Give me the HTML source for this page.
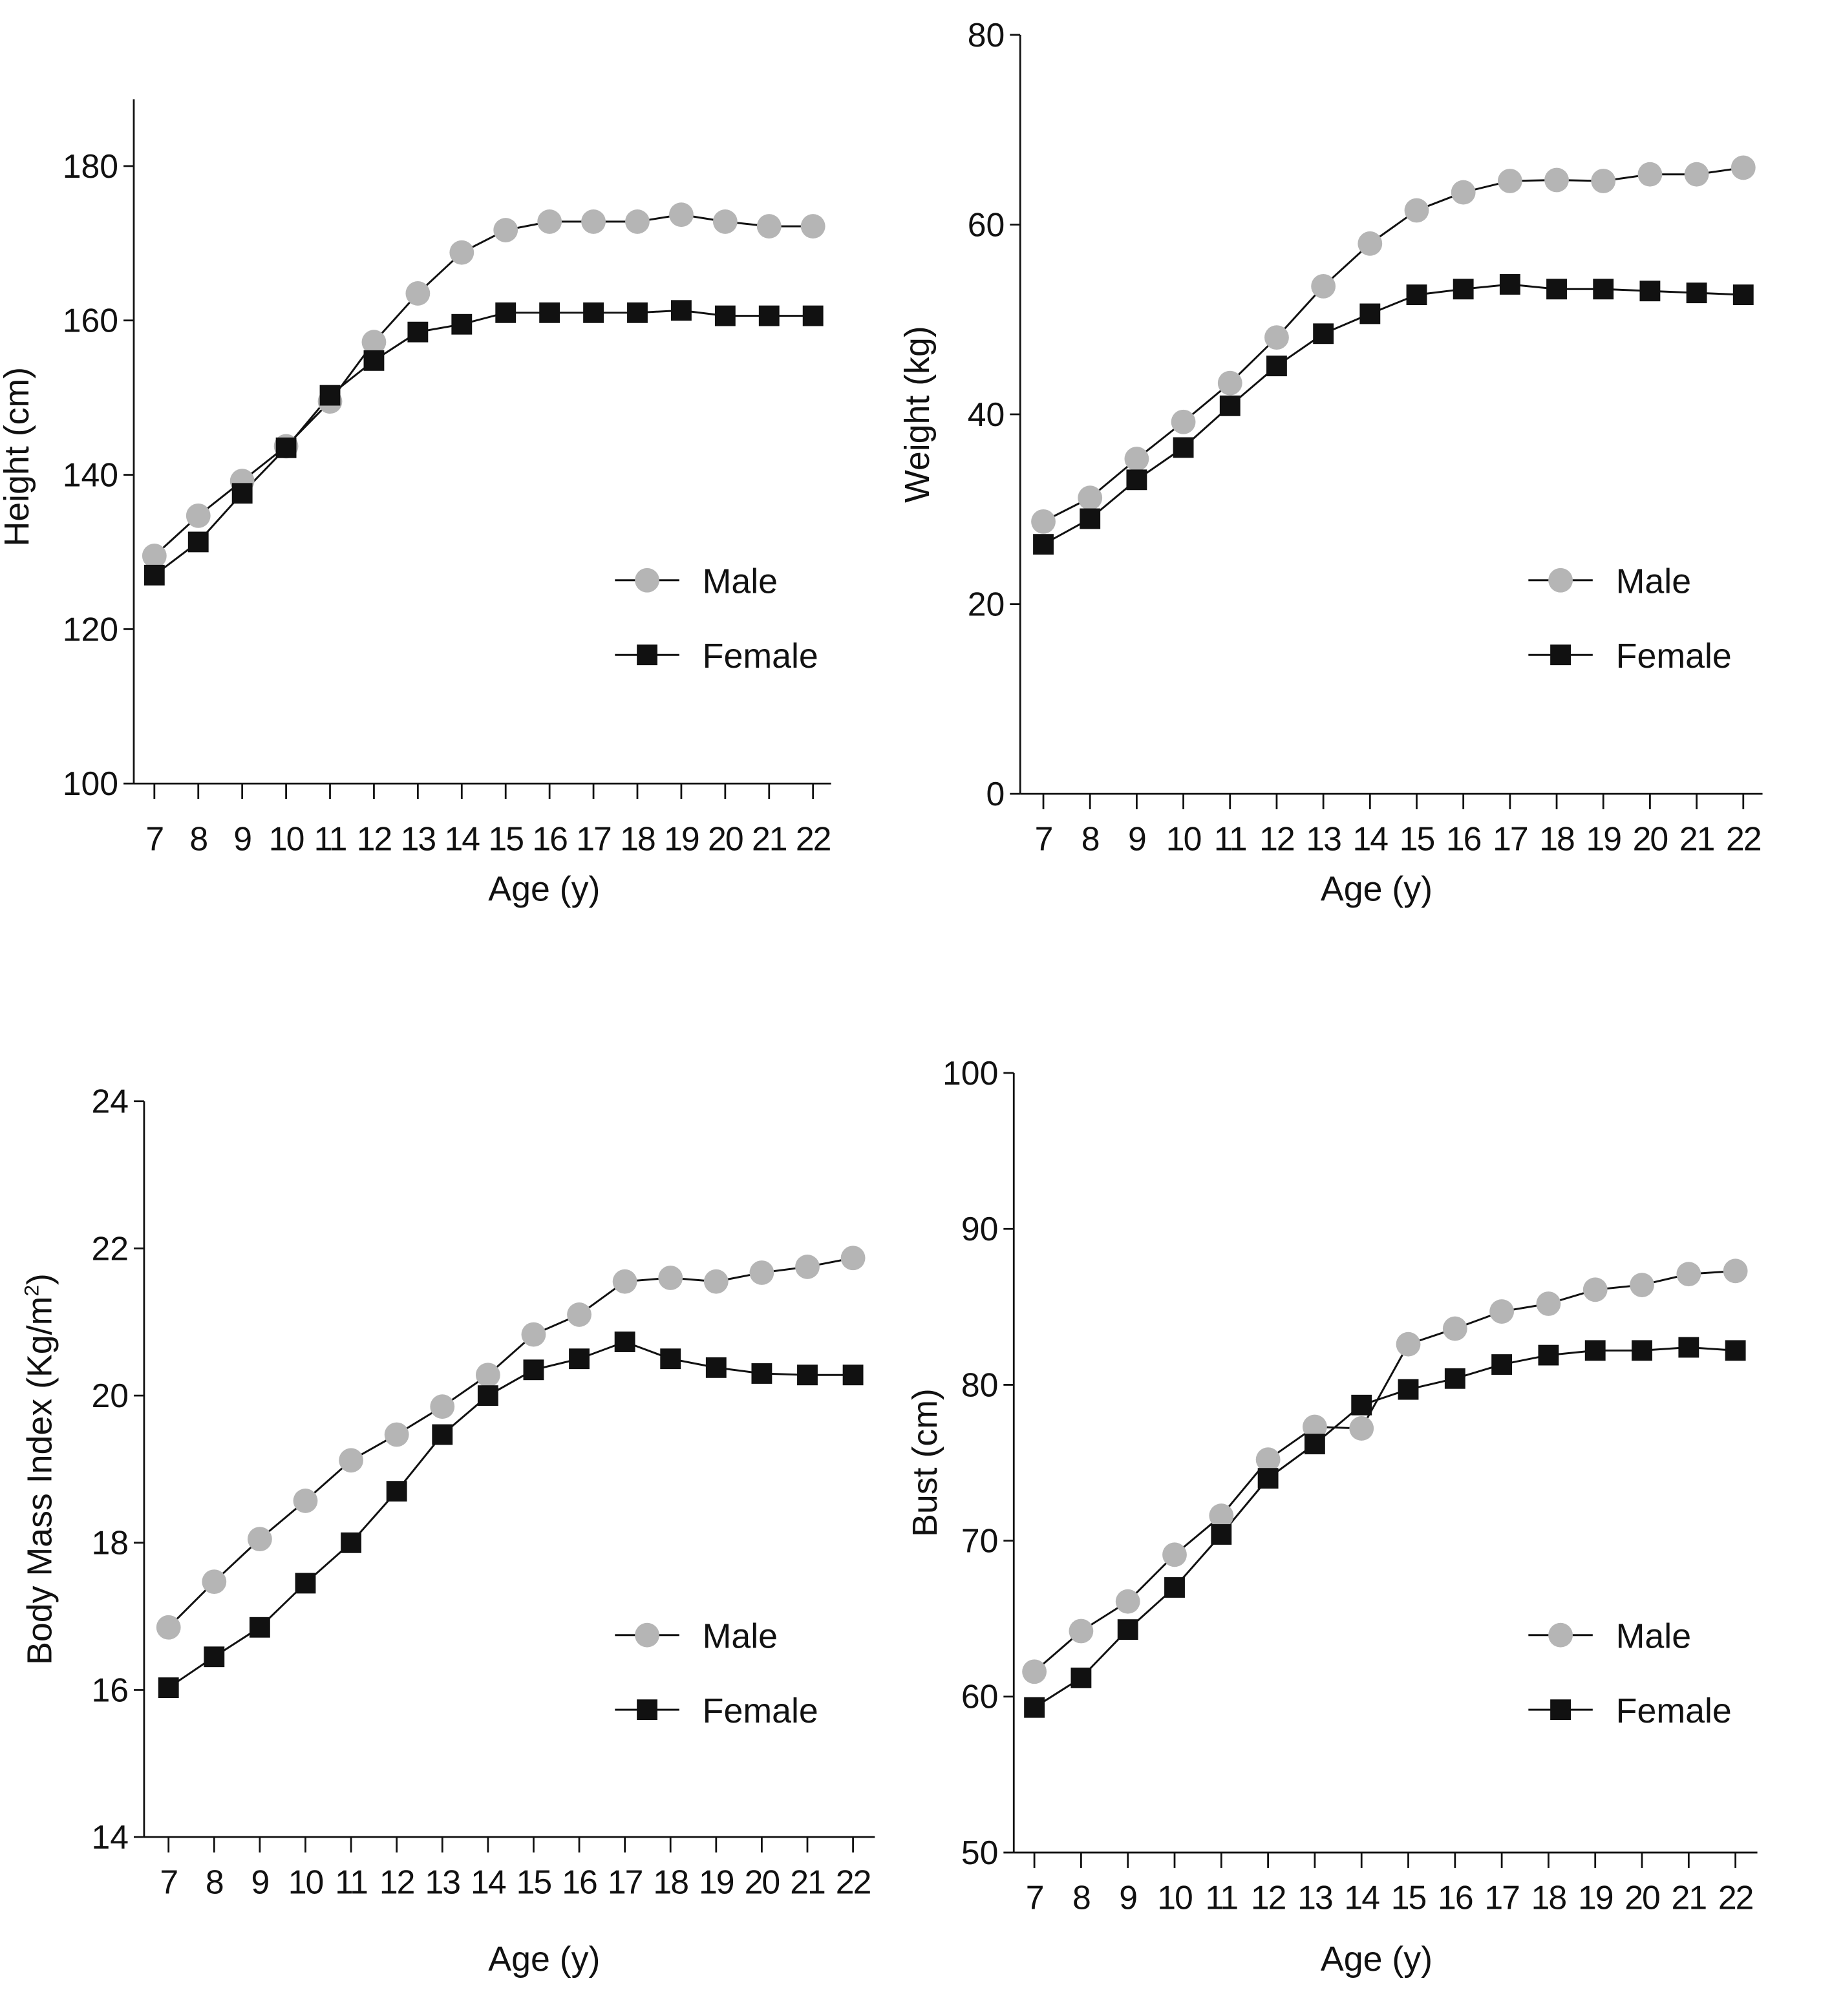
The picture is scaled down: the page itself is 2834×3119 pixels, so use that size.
<!DOCTYPE html>
<html><head><meta charset="utf-8"><style>
html,body{margin:0;padding:0;background:#fff;}
svg{display:block;}
text{font-family:"Liberation Sans",sans-serif;fill:#111;}
</style></head>
<body>
<svg id="chart" width="2834" height="3119" viewBox="0 0 1424 1567" xmlns="http://www.w3.org/2000/svg"></svg>
<script>
const ages = [7,8,9,10,11,12,13,14,15,16,17,18,19,20,21,22];
const heightMale = [129.5,134.7,139.2,143.7,149.5,157.2,163.5,168.8,171.7,172.8,172.8,172.8,173.7,172.8,172.2,172.2];
const heightFemale = [127,131.3,137.6,143.5,150.3,154.8,158.5,159.5,161,161,161,161,161.3,160.6,160.6,160.6];
const heightTicks = [100,120,140,160,180];
const weightMale = [28.7,31.2,35.3,39.2,43.3,48.1,53.5,58,61.5,63.4,64.6,64.7,64.6,65.3,65.3,66];
const weightFemale = [26.3,29,33.1,36.5,40.9,45.1,48.5,50.6,52.6,53.2,53.7,53.2,53.2,53,52.8,52.6];
const weightTicks = [0,20,40,60,80];
const bmiMale = [16.85,17.47,18.05,18.57,19.12,19.47,19.85,20.28,20.83,21.1,21.55,21.6,21.55,21.67,21.75,21.87];
const bmiFemale = [16.03,16.45,16.85,17.45,18.0,18.7,19.47,20.0,20.35,20.5,20.73,20.5,20.38,20.3,20.28,20.28];
const bmiTicks = [14,16,18,20,22,24];
const bustMale = [61.6,64.2,66.1,69.1,71.6,75.2,77.3,77.2,82.6,83.6,84.7,85.2,86.1,86.4,87.1,87.3];
const bustFemale = [59.3,61.2,64.3,67,70.4,74,76.2,78.7,79.7,80.4,81.3,81.9,82.2,82.2,82.4,82.2];
const bustTicks = [50,60,70,80,90,100];

const svg = document.getElementById('chart');
const NS = 'http://www.w3.org/2000/svg';
function mk(tag, attrs, parent){
  const e = document.createElementNS(NS, tag);
  for (const k in attrs) e.setAttribute(k, attrs[k]);
  (parent||svg).appendChild(e);
  return e;
}

function panel(cfg){
  const g = mk('g', {});
  
  
  const yScale = v => cfg.yBottom - (v - cfg.yMin) / (cfg.yMax - cfg.yMin) * (cfg.yBottom - cfg.yTop);
  const xScale = a => cfg.x0 + (a - ages[0]) * cfg.dx;
  const yAxis = mk('line', {x1:cfg.axisX, y1:cfg.yTop - 52 + 52*(cfg.topExt||0), x2:cfg.axisX, y2:cfg.yBottom, stroke:'#111','stroke-width':1.4}, g);
  
  
  const xAxis = mk('line', {x1:cfg.axisX, y1:cfg.yBottom, x2:cfg.axisEnd, y2:cfg.yBottom, stroke:'#111','stroke-width':1.4}, g);
  
  
  cfg.ticks.forEach(t => {
    const y = yScale(t);
    mk('line', {x1:cfg.axisX-8, y1:y, x2:cfg.axisX, y2:y, stroke:'#111','stroke-width':1.4}, g);
    const tl = mk('text', {x:cfg.axisX-12, y:y+9, 'text-anchor':'end','font-size':26}, g);
    tl.textContent = t;
    
    
  });
  ages.forEach(a => {
    const x = xScale(a);
    mk('line', {x1:x, y1:cfg.yBottom, x2:x, y2:cfg.yBottom+12, stroke:'#111','stroke-width':1.4}, g);
    const tl = mk('text', {x:x, y:cfg.xLabelY, 'text-anchor':'middle','font-size':26,'letter-spacing':-1}, g);
    tl.textContent = a;
    
    
  });
  const xt = mk('text', {x:cfg.xTitleX, y:cfg.xTitleY, 'text-anchor':'middle','font-size':27}, g);
  xt.textContent = 'Age (y)';
  
  
  const yt = mk('text', {x:0, y:0, 'text-anchor':'middle','font-size':27, transform:`translate(${cfg.yTitleX},${cfg.yTitleY}) rotate(-90)`}, g);
  yt.innerHTML = cfg.yTitle;
  
  
  const mPts = cfg.male.map((v,i) => xScale(ages[i]) + ',' + yScale(v)).join(' ');
  const fPts = cfg.female.map((v,i) => xScale(ages[i]) + ',' + yScale(v)).join(' ');
  const ml = mk('polyline', {points:mPts, fill:'none', stroke:'#111','stroke-width':1.5}, g);
  
  
  const fl = mk('polyline', {points:fPts, fill:'none', stroke:'#111','stroke-width':1.5}, g);
  
  
  cfg.male.forEach((v,i) => {
    const c = mk('circle', {cx:xScale(ages[i]), cy:yScale(v), r:9.5, fill:'#b5b5b5'}, g);
    
    
  });
  cfg.female.forEach((v,i) => {
    const r = mk('rect', {x:xScale(ages[i])-8, y:yScale(v)-8, width:16, height:16, fill:'#111'}, g);
    
    
  });
  const lg = mk('g', {}, g);
  
  
  const lx = cfg.legX, ly1 = cfg.legY, ly2 = cfg.legY + 58;
  mk('line', {x1:lx-25, y1:ly1, x2:lx+25, y2:ly1, stroke:'#111','stroke-width':1.5}, lg);
  mk('circle', {cx:lx, cy:ly1, r:9.5, fill:'#b5b5b5'}, lg);
  const t1 = mk('text', {x:lx+43, y:ly1+10, 'font-size':27}, lg);
  t1.textContent = 'Male';
  
  
  mk('line', {x1:lx-25, y1:ly2, x2:lx+25, y2:ly2, stroke:'#111','stroke-width':1.5}, lg);
  mk('rect', {x:lx-8, y:ly2-8, width:16, height:16, fill:'#111'}, lg);
  const t2 = mk('text', {x:lx+43, y:ly2+10, 'font-size':27}, lg);
  t2.textContent = 'Female';
  
  
}

panel({name:'height-panel', male:heightMale, female:heightFemale, ticks:heightTicks,
  yMin:100, yMax:180, yBottom:609, yTop:129, topExt:0, axisX:104, axisEnd:646,
  x0:120, dx:34.13, xLabelY:661, xTitleX:423, xTitleY:700,
  yTitle:'Height (cm)', yTitleX:22, yTitleY:355, legX:503, legY:451});
panel({name:'weight-panel', male:weightMale, female:weightFemale, ticks:weightTicks,
  yMin:0, yMax:80, yBottom:617, yTop:27, topExt:1, axisX:793, axisEnd:1370,
  x0:811, dx:36.27, xLabelY:661, xTitleX:1070, xTitleY:700,
  yTitle:'Weight (kg)', yTitleX:722, yTitleY:322, legX:1213, legY:451});
panel({name:'bmi-panel', male:bmiMale, female:bmiFemale, ticks:bmiTicks,
  yMin:14, yMax:24, yBottom:1428, yTop:856, topExt:1, axisX:112, axisEnd:680,
  x0:131, dx:35.47, xLabelY:1472, xTitleX:423, xTitleY:1532,
  yTitle:'Body Mass Index (Kg/m<tspan font-size="16" dy="-10">2</tspan><tspan dy="10">)</tspan>', yTitleX:40, yTitleY:1142, legX:503, legY:1271});
panel({name:'bust-panel', male:bustMale, female:bustFemale, ticks:bustTicks,
  yMin:50, yMax:100, yBottom:1440, yTop:834, topExt:1, axisX:788, axisEnd:1366,
  x0:804, dx:36.33, xLabelY:1484, xTitleX:1070, xTitleY:1532,
  yTitle:'Bust (cm)', yTitleX:728, yTitleY:1137, legX:1213, legY:1271});
</script>
</body></html>
